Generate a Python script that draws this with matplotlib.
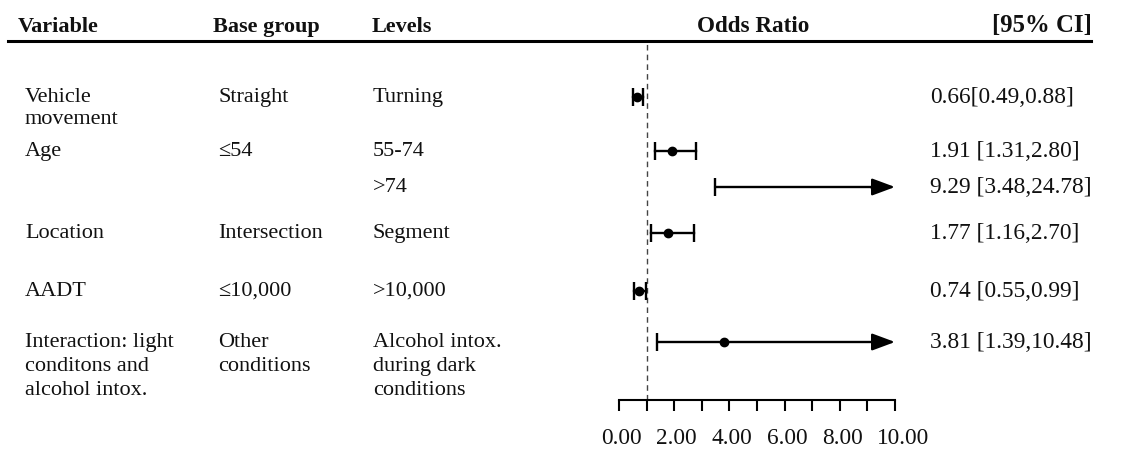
## Forest plot of odds ratios with a table of variables on the left

import matplotlib.pyplot as plt
from matplotlib.lines import Line2D
from matplotlib.ticker import MultipleLocator, FixedLocator
from matplotlib.transforms import blended_transform_factory, ScaledTranslation

## DATA

headers = ["Variable", "Base group", "Levels", "Odds Ratio", "[95% CI]"]
variables = ["Vehicle\nmovement", "Age", "", "Location", "AADT",
             "Interaction: light\nconditons and\nalcohol intox."]
base_groups = ["Straight", "\u226454", "", "Intersection", "\u226410,000",
               "Other\nconditions"]
levels = ["Turning", "55-74", ">74", "Segment", ">10,000",
          "Alcohol intox.\nduring dark\nconditions"]
odds = [0.66, 1.91, 9.29, 1.77, 0.74, 3.81]
ci_low = [0.49, 1.31, 3.48, 1.16, 0.55, 1.39]
ci_high = [0.88, 2.80, 24.78, 2.70, 0.99, 10.48]
ci_sep = ["", " ", " ", " ", " ", " "]
x_ticks = [0, 2, 4, 6, 8, 10]

## LAYOUT (pixels of the 1147x449 picture)

W, H = 1147, 449
row_y = [97, 151, 187, 233, 291, 342]
col_x = [25, 218, 373]
ci_x = 930
line_px = [22, 22, 22, 22, 22, 24]
x_max = 10

plt.rcParams['font.family'] = ['Liberation Serif', 'DejaVu Serif']
plt.rcParams['font.size'] = 16

fig = plt.figure(figsize=(W / 100, H / 100), dpi=100)
ax = fig.add_axes([619 / W, (H - 400) / H, 276 / W, (400 - 42) / H])
ax.set_xlim(0, x_max)
ax.set_ylim(400, 42)
trans = blended_transform_factory(fig.transFigure, ax.transData)

# header row and rule
for name, x, ha, fs in zip(headers, [18, 213, 372, 753, 1092],
                           ['left', 'left', 'left', 'center', 'right'],
                           [16, 16, 16, 16.7, 17.8]):
    ax.text(x / W, 32, name, transform=trans, ha=ha, va='baseline',
            fontweight='bold', fontsize=fs, color='#111111')
fig.add_artist(Line2D([8 / W, 1091 / W], [(H - 40.5) / H] * 2,
                      color='black', lw=2.2))

# table text, one line at a time so the line spacing stays even
for i, y in enumerate(row_y):
    for col, txt in zip(col_x, [variables[i], base_groups[i], levels[i]]):
        for k, line in enumerate(txt.split("\n")):
            if line:
                ax.text(col / W, y + 5 + k * line_px[i], line, transform=trans,
                        ha='left', va='baseline', color='#111111')
    label = f"{odds[i]:.2f}{ci_sep[i]}[{ci_low[i]:.2f},{ci_high[i]:.2f}]"
    ax.text(ci_x / W, y + 6, label, transform=trans, ha='left',
            va='baseline', fontsize=16.8, color='#111111')

# reference line at OR = 1
ax.axvline(1, color='#444444', lw=1, ls=(0, (4, 3)), zorder=1)

# intervals
for o, lo, hi, y in zip(odds, ci_low, ci_high, row_y):
    if hi > x_max:
        ax.annotate('', xy=(x_max, y), xytext=(lo, y),
                    arrowprops=dict(arrowstyle='-|>,head_length=0.7,head_width=0.26',
                                    mutation_scale=20, lw=1.7, color='black',
                                    shrinkA=0, shrinkB=0))
        ax.plot([lo], [y], marker='|', ms=12.5, mew=1.7, color='black')
    else:
        ax.plot([lo, hi], [y, y], color='black', lw=1.7)
        ax.plot([lo, hi], [y, y], ls='none', marker='|', ms=12.5, mew=1.7,
                color='black')
    ax.plot([o], [y], marker='o', ms=6, color='black', zorder=5)

# x axis
for side in ['left', 'right', 'top']:
    ax.spines[side].set_visible(False)
ax.spines['bottom'].set_linewidth(1.5)
ax.set_yticks([])
ax.xaxis.set_major_locator(FixedLocator(x_ticks))
ax.xaxis.set_minor_locator(MultipleLocator(1))
ax.set_xticklabels([f"{t:.2f}" for t in x_ticks])
ax.tick_params(axis='x', which='both', direction='out', length=8, width=1.5,
               color='black')
ax.tick_params(axis='x', which='major', pad=12, labelsize=16.8,
               labelcolor='#111111')
# labels start a little left of their tick, as in the source figure
shift = ScaledTranslation(-18 / 100, 0, fig.dpi_scale_trans)
for lab in ax.get_xticklabels():
    lab.set_ha('left')
    lab.set_transform(lab.get_transform() + shift)

fig.savefig('out.png', dpi=100)
